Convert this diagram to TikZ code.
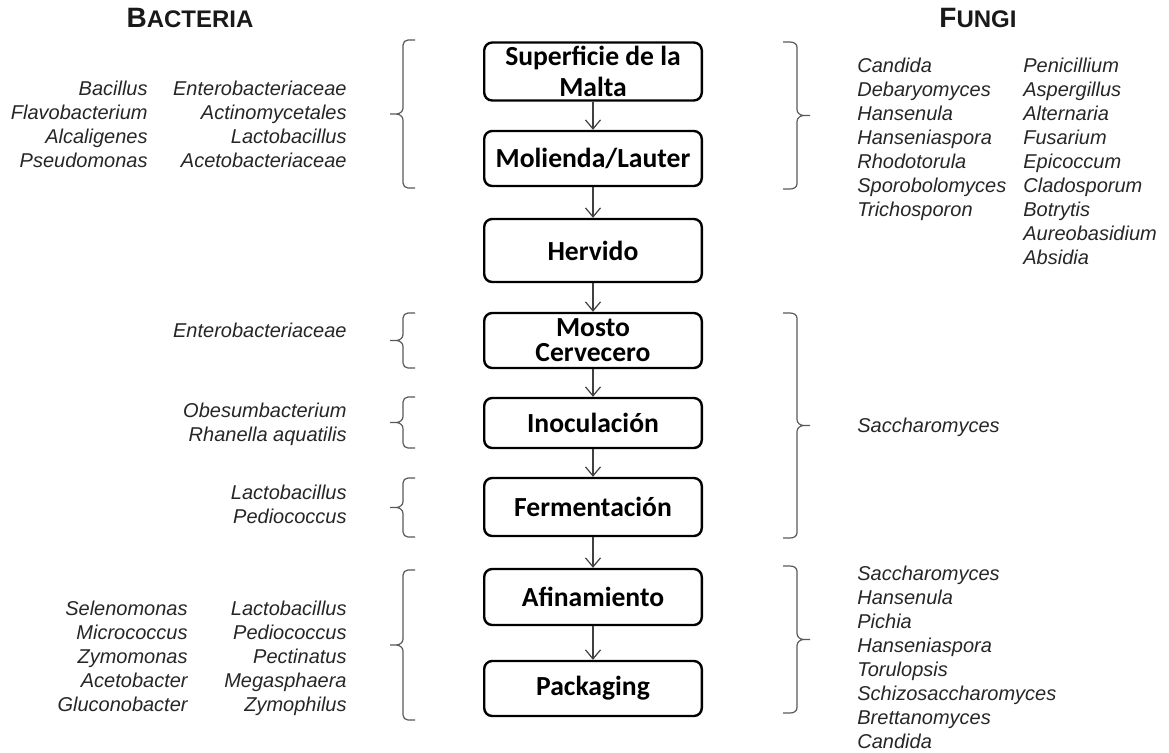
\documentclass[tikz,border=0pt]{standalone}
\usepackage{fontspec}
\setmainfont{Liberation Sans}
\newfontfamily\boxfont{Carlito}
\usetikzlibrary{arrows.meta}
\usetikzlibrary{positioning}
\tikzset{proc/.style = {draw, rounded corners=4pt, line width=1.2pt,
                        minimum width=108.8pt, minimum height=27.5pt, align=center,
                        font=\boxfont\bfseries\fontsize{13.8}{14}\selectfont, inner sep=1pt}}
\tikzset{spp/.style = {font=\itshape\fontsize{10}{12}\selectfont, inner sep=0, text=black!85}}
\tikzset{brk/.style = {draw=black!65, line width=0.6pt}}
\tikzset{flow/.style = {-{Straight Barb[length=4.5pt,width=7.5pt]}, draw=black!75, line width=0.6pt}}
\tikzset{kingdom/.style = {font=\bfseries, inner sep=0, text=black!90}}
% brackets: top y, bottom y
\newcommand{\leftbrack}[2]{%
  \draw[brk] (415,#1) -- (408,#1) to[out=180,in=90] (403,{#1+5})
    -- (403,{(#1+#2)/2-6}) to[out=-90,in=0] (396,{(#1+#2)/2}) -- (390,{(#1+#2)/2})
    -- (396,{(#1+#2)/2}) to[out=0,in=90] (403,{(#1+#2)/2+6})
    -- (403,{#2-5}) to[out=-90,in=180] (408,#2) -- (415,#2);}
\newcommand{\rightbrack}[2]{%
  \draw[brk] (783,#1) -- (790,#1) to[out=0,in=90] (797,{#1+5})
    -- (797,{(#1+#2)/2-6}) to[out=-90,in=180] (804,{(#1+#2)/2}) -- (810,{(#1+#2)/2})
    -- (804,{(#1+#2)/2}) to[out=180,in=90] (797,{(#1+#2)/2+6})
    -- (797,{#2-5}) to[out=-90,in=0] (790,#2) -- (783,#2);}

\begin{document}
\begin{tikzpicture}[x=0.5pt, y=-0.5pt]
  \useasboundingbox (0,0) rectangle (1169,752);

  \node [kingdom] (bact) at (190,18) {{\fontsize{14}{14}\selectfont B}{\fontsize{12}{12}\selectfont ACTERIA}};
  \node [kingdom] (fung) at (978,18) {{\fontsize{14}{14}\selectfont F}{\fontsize{12}{12}\selectfont UNGI}};

  % process steps
  \node [proc, font=\boxfont\bfseries\fontsize{13.8}{15.3}\selectfont, minimum height=29pt] (malta) at (593,71.5) {Superficie de la\\Malta};
  \node [proc] (molienda) at (593,158.5) {Molienda/Lauter};
  \node [proc, minimum height=31.5pt] (hervido) at (593,250.5) {Hervido};
  \node [proc, font=\boxfont\bfseries\fontsize{13.8}{12.5}\selectfont, inner sep=0.5pt] (mosto) at (593,340.5) {Mosto\\Cervecero};
  \node [proc, minimum height=25pt] (inoc) at (593,423) {Inoculación};
  \node [proc, minimum height=29pt] (ferm) at (593,507) {Fermentación};
  \node [proc, minimum height=28pt] (afin) at (593,597) {Afinamiento};
  \node [proc] (pack) at (593,688.5) {Packaging};

  \draw [flow] (malta) -- (molienda);
  \draw [flow] (molienda) -- (hervido);
  \draw [flow] (hervido) -- (mosto);
  \draw [flow] (mosto) -- (inoc);
  \draw [flow] (inoc) -- (ferm);
  \draw [flow] (ferm) -- (afin);
  \draw [flow] (afin) -- (pack);

  % bacteria
  \leftbrack{40}{188}
  \leftbrack{313}{368}
  \leftbrack{397}{448}
  \leftbrack{478}{537}
  \leftbrack{570}{720}
  \node [spp, anchor=north east, align=right] (maltaBacA) at (148,81) {Bacillus\\Flavobacterium\\Alcaligenes\\Pseudomonas};
  \node [spp, anchor=north east, align=right] (maltaBacB) at (347,81) {Enterobacteriaceae\\Actinomycetales\\Lactobacillus\\Acetobacteriaceae};
  \node [spp, anchor=north east, align=right] (mostoBac) at (347,323) {Enterobacteriaceae};
  \node [spp, anchor=north east, align=right] (inocBac) at (347,403) {Obesumbacterium\\Rhanella aquatilis};
  \node [spp, anchor=north east, align=right] (fermBac) at (347,485) {Lactobacillus\\Pediococcus};
  \node [spp, anchor=north east, align=right] (afinBacA) at (188,601) {Selenomonas\\Micrococcus\\Zymomonas\\Acetobacter\\Gluconobacter};
  \node [spp, anchor=north east, align=right] (afinBacB) at (347,601) {Lactobacillus\\Pediococcus\\Pectinatus\\Megasphaera\\Zymophilus};

  % fungi
  \rightbrack{42}{189}
  \rightbrack{313}{538}
  \rightbrack{566}{713}
  \node [spp, anchor=north west, align=left] (maltaFunA) at (857,58) {Candida\\Debaryomyces\\Hansenula\\Hanseniaspora\\Rhodotorula\\Sporobolomyces\\Trichosporon};
  \node [spp, anchor=north west, align=left] (maltaFunB) at (1023,58) {Penicillium\\Aspergillus\\Alternaria\\Fusarium\\Epicoccum\\Cladosporum\\Botrytis\\Aureobasidium\\Absidia};
  \node [spp, anchor=north west, align=left] (mostoFun) at (857,418) {Saccharomyces};
  \node [spp, anchor=north west, align=left] (afinFun) at (857,566) {Saccharomyces\\Hansenula\\Pichia\\Hanseniaspora\\Torulopsis\\Schizosaccharomyces\\Brettanomyces\\Candida};
\end{tikzpicture}
\end{document}
